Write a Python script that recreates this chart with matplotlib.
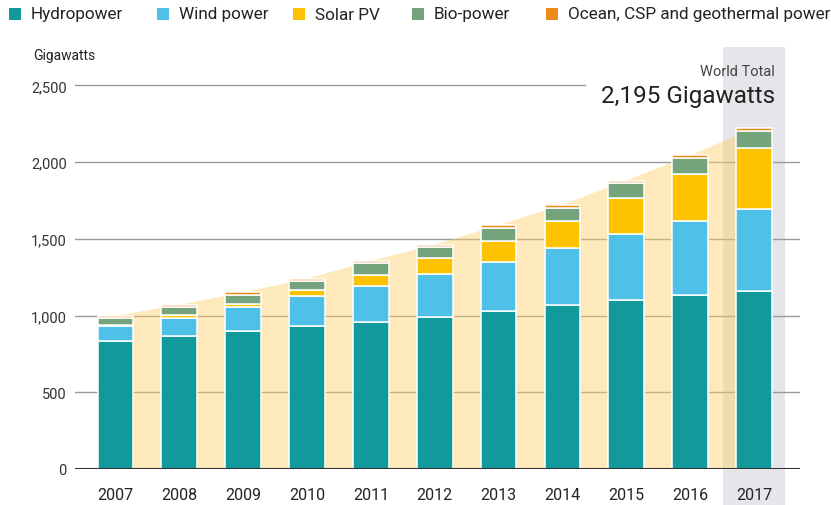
import matplotlib
matplotlib.use("Agg")
import matplotlib.pyplot as plt
from matplotlib.patches import Rectangle
import numpy as np

plt.rcParams["font.family"] = ["Roboto", "DejaVu Sans"]

years = ["2007", "2008", "2009", "2010", "2011", "2012", "2013", "2014", "2015", "2016", "2017"]
hydropower = [835, 865, 897, 934, 956, 989, 1032, 1069, 1100, 1134, 1158]
wind_power = [94, 122, 157, 192, 239, 282, 319, 370, 434, 485, 537]
solar_pv = [10, 17, 22, 39, 70, 102, 135, 176, 231, 304, 400]
bio_power = [45, 50, 60, 59, 76, 76, 87, 86, 97, 104, 106]
ocean_csp_geo = [14, 15, 16, 15, 15, 13, 16, 20, 18, 16, 22]
y_ticks = [0, 500, 1000, 1500, 2000, 2500]
y_tick_labels = ["0", "500", "1,000", "1,500", "2,000", "2,500"]

series = [
    ("Hydropower", hydropower, "#12999b"),
    ("Wind power", wind_power, "#4fc0e8"),
    ("Solar PV", solar_pv, "#fdc300"),
    ("Bio-power", bio_power, "#74a37c"),
    ("Ocean, CSP and geothermal power", ocean_csp_geo, "#ee8a1a"),
]

W, H = 831, 506
fig = plt.figure(figsize=(W / 100, H / 100), dpi=100)
ax = fig.add_axes([75 / W, (H - 470) / H, (800 - 75) / W, (470 - 48) / H])

x = np.arange(len(years))
totals = np.sum([s[1] for s in series], axis=0)

ax.set_xlim(-0.634, 10.72)
ax.set_ylim(0, 2750)

# highlight band for latest year
ax.add_patch(Rectangle((x[-1] - 0.49, -240), 0.98, 2990, facecolor="#e4e6ea",
                       edgecolor="none", zorder=0, clip_on=False))

# gridlines
for t in y_ticks[1:-1]:
    ax.axhline(t, color="#9a9a9a", linewidth=1.0, zorder=1)
ax.plot([-0.634, 7.35], [2500, 2500], color="#9a9a9a", linewidth=1.0, zorder=1)

# total area behind bars
ax.fill_between(x, 0, totals, facecolor="#fbd06a", alpha=0.45, linewidth=0, zorder=2)

bottom = np.zeros(len(years))
for name, vals, color in series:
    ax.bar(x, vals, bottom=bottom, width=0.56, color=color, edgecolor="white",
           linewidth=1.1, zorder=3)
    bottom += np.array(vals)

ax.axhline(0, color="#333333", linewidth=1.5, zorder=4)

for sp in ax.spines.values():
    sp.set_visible(False)
ax.set_yticks(y_ticks)
ax.set_yticklabels(y_tick_labels, fontsize=10.5, color="#333333")
ax.set_xticks(x)
ax.set_xticklabels(years, fontsize=11.5, color="#222222")
ax.tick_params(axis="y", length=0, pad=6)
ax.tick_params(axis="x", length=0, pad=13)

# legend
leg_x = [9, 157, 293, 412, 546]
for (name, vals, color), lx in zip(series, leg_x):
    fig.patches.append(Rectangle((lx / W, (H - 21) / H), 12 / W, 12 / H, facecolor=color,
                                 edgecolor="none", transform=fig.transFigure))
    fig.text((lx + 22) / W, (H - 15) / H, name, fontsize=12.3, color="#222222",
             va="center", ha="left")

fig.text(33 / W, (H - 56) / H, "Gigawatts", fontsize=10, color="#222222", va="center")
fig.text(775 / W, (H - 72) / H, "World Total", fontsize=10.5, color="#444444",
         va="center", ha="right")
fig.text(775 / W, (H - 96) / H, "2,195 Gigawatts", fontsize=17.5,
         color="#222222", va="center", ha="right")

fig.savefig("out.png", dpi=100)
